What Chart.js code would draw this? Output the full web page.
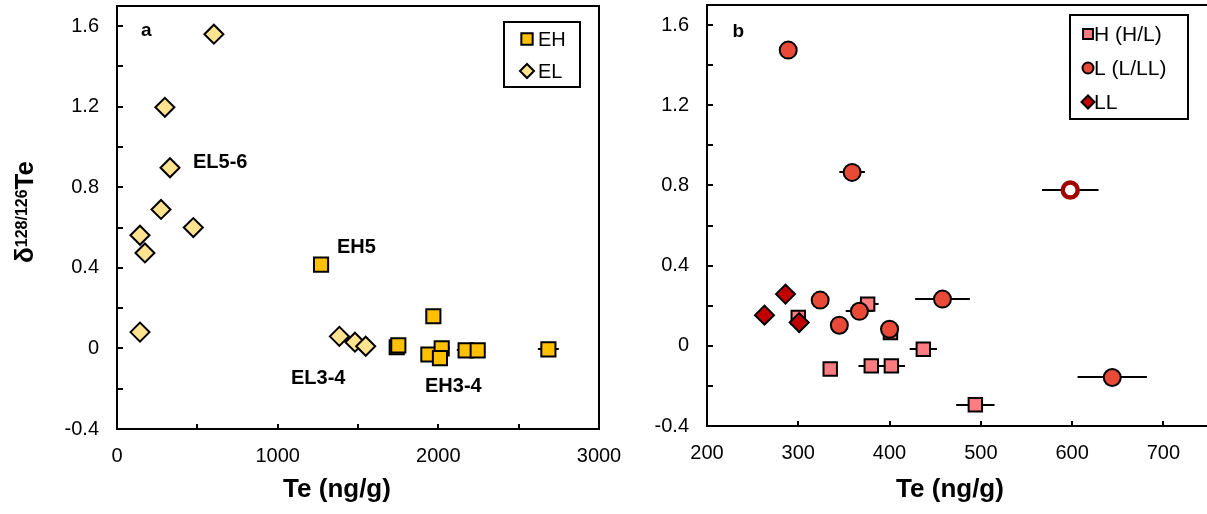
<!DOCTYPE html>
<html><head><meta charset="utf-8">
<script src="https://cdn.jsdelivr.net/npm/chart.js@4/dist/chart.umd.min.js"></script>
<style>
html,body{margin:0;padding:0;background:#fff;}
#wrap{position:relative;width:1207px;height:514px;overflow:hidden;background:#fff;}
canvas{position:absolute;top:0;}
#ca{left:0;}
#cb{left:600px;}
</style></head><body>
<div id="wrap"><canvas id="ca" width="640" height="514"></canvas><canvas id="cb" width="612" height="514"></canvas></div>
<script>
const FONT = '"Liberation Sans", Arial, Helvetica, sans-serif';

// ---------- Panel a data ----------
const ehTe    = [1270, 1969, 1741, 1751, 1938, 2021, 2010, 2170, 2245, 2685];
const ehDelta = [0.416, 0.16, 0.006, 0.015, -0.03, 0.0, -0.048, -0.01, -0.01, -0.005];
const ehTeErr = [0, 0, 0, 0, 0, 50, 0, 55, 0, 65];
const elTe    = [603, 298, 330, 274, 475, 143, 174, 143, 1384, 1481, 1548];
const elDelta = [1.56, 1.197, 0.897, 0.69, 0.60, 0.562, 0.474, 0.081, 0.06, 0.031, 0.011];

const aXTickValues = [0, 1000, 2000, 3000];
const aXTickLabels = ['0', '1000', '2000', '3000'];
const yTickValues  = [-0.4, 0, 0.4, 0.8, 1.2, 1.6];
const yTickLabels  = ['-0.4', '0', '0.4', '0.8', '1.2', '1.6'];
const aNotes = [
  {text: 'a',     x: 149,  y: 1.551, bold: true, size: 19},
  {text: 'EL5-6', x: 473,  y: 0.896, bold: true, size: 20},
  {text: 'EH5',   x: 1369, y: 0.474, bold: true, size: 20},
  {text: 'EL3-4', x: 1083, y: -0.177, bold: true, size: 20},
  {text: 'EH3-4', x: 1917, y: -0.216, bold: true, size: 20}
];

// ---------- Panel b data ----------
const hTe    = [376, 300, 401, 437, 335, 380, 402, 494];
const hDelta = [0.208, 0.141, 0.066, -0.017, -0.116, -0.10, -0.10, -0.294];
const hTeErr = [12, 0, 0, 15, 6, 14, 15, 21];
const lTe    = [289, 359, 324, 458, 367, 345, 400, 644];
const lDelta = [1.475, 0.865, 0.228, 0.233, 0.172, 0.103, 0.083, -0.158];
const lTeErr = [0, 14, 0, 30, 15, 0, 10, 38];
const lOpenTe    = [598];
const lOpenDelta = [0.777];
const lOpenTeErr = [31];
const llTe    = [263, 286, 301];
const llDelta = [0.153, 0.258, 0.116];

const bXTickValues = [200, 300, 400, 500, 600, 700];
const bXTickLabels = ['200', '300', '400', '500', '600', '700'];
const bNotes = [{text: 'b', x: 228, y: 1.540, bold: true, size: 19}];

// markers near the frame must not push the plot area inwards
(function () {
  const SC = Chart.ScatterController || (Chart.registry && Chart.registry.getController('scatter'));
  if (SC) SC.prototype.getMaxOverflow = function () { return 0; };
})();

// ---------- helpers ----------
function pts(xs, ys) { return xs.map((x, i) => ({x: x, y: ys[i]})); }
function lab(v, vals, labels) {
  const i = vals.findIndex(t => Math.abs(t - v) < 1e-6);
  return i >= 0 ? labels[i] : '';
}
function marker(ctx, style, x, y, r, fill, stroke, lw) {
  ctx.save();
  ctx.beginPath();
  if (style === 'rect') { const s = r * Math.SQRT1_2; ctx.rect(x - s, y - s, 2 * s, 2 * s); }
  else if (style === 'rectRot') { ctx.moveTo(x - r, y); ctx.lineTo(x, y - r); ctx.lineTo(x + r, y); ctx.lineTo(x, y + r); ctx.closePath(); }
  else { ctx.arc(x, y, r, 0, Math.PI * 2); }
  ctx.fillStyle = fill; ctx.fill();
  ctx.lineWidth = lw; ctx.strokeStyle = stroke; ctx.lineJoin = 'miter'; ctx.stroke();
  ctx.restore();
}

function framePlugin(cfg) {
  return {
    id: 'frame',
    beforeDatasetsDraw(chart) {
      const ctx = chart.ctx, a = chart.chartArea, xs = chart.scales.x, ys = chart.scales.y;
      ctx.save();
      ctx.strokeStyle = '#000'; ctx.lineWidth = 2;
      ctx.strokeRect(a.left, a.top, a.right - a.left, a.bottom - a.top);
      ctx.beginPath();
      xs.ticks.forEach(t => { const px = Math.round(xs.getPixelForValue(t.value)); ctx.moveTo(px, a.bottom); ctx.lineTo(px, a.bottom - cfg.xTickLen); });
      ys.ticks.forEach(t => { const py = Math.round(ys.getPixelForValue(t.value)); ctx.moveTo(a.left, py); ctx.lineTo(a.left + cfg.yTickLen, py); });
      ctx.stroke();
      // horizontal error bars
      ctx.beginPath();
      chart.data.datasets.forEach(ds => {
        if (!ds.xErr) return;
        ds.data.forEach((p, j) => {
          const e = ds.xErr[j]; if (!e) return;
          const y = Math.round(ys.getPixelForValue(p.y));
          ctx.moveTo(xs.getPixelForValue(p.x - e), y);
          ctx.lineTo(xs.getPixelForValue(p.x + e), y);
        });
      });
      ctx.stroke();
      ctx.restore();
    },
    afterDatasetsDraw(chart) {
      const ctx = chart.ctx, xs = chart.scales.x, ys = chart.scales.y;
      ctx.save();
      ctx.fillStyle = '#000';
      // notes
      ctx.textAlign = 'left'; ctx.textBaseline = 'alphabetic';
      cfg.notes.forEach(n => {
        ctx.font = (n.bold ? 'bold ' : '') + n.size + 'px ' + FONT;
        ctx.fillText(n.text, xs.getPixelForValue(n.x), ys.getPixelForValue(n.y));
      });
      // legend
      const L = cfg.legend;
      ctx.lineWidth = 2; ctx.strokeStyle = '#000';
      ctx.strokeRect(L.x, L.y, L.w, L.h);
      L.items.forEach((it, k) => {
        const ds = chart.data.datasets[it.ds];
        const cy = L.y + L.firstY + k * L.gap;
        marker(ctx, ds.pointStyle, L.x + L.mx, cy, it.r, ds.pointBackgroundColor, '#000', 2);
        ctx.fillStyle = '#000';
        ctx.font = L.size + 'px ' + FONT;
        ctx.textAlign = 'left'; ctx.textBaseline = 'middle';
        ctx.fillText(ds.label, L.x + L.tx, cy + 1);
      });
      // x title
      ctx.font = 'bold 26px ' + FONT;
      ctx.textAlign = 'center'; ctx.textBaseline = 'alphabetic';
      ctx.fillText(cfg.xTitle.text, cfg.xTitle.x, cfg.xTitle.y);
      // y title with superscript
      if (cfg.yTitle) {
        const t = cfg.yTitle;
        ctx.translate(t.x, t.y); ctx.rotate(-Math.PI / 2);
        ctx.textAlign = 'left';
        ctx.font = 'bold 26px ' + FONT;
        ctx.fillText(t.pre, 0, 0);
        let w = ctx.measureText(t.pre).width;
        ctx.font = 'bold 16px ' + FONT;
        ctx.fillText(t.sup, w, -6);
        w += ctx.measureText(t.sup).width;
        ctx.font = 'bold 26px ' + FONT;
        ctx.fillText(t.post, w, 0);
      }
      ctx.restore();
    }
  };
}

function buildChart(id, o) {
  const c = document.getElementById(id);
  const W = c.width, H = c.height;
  return new Chart(c, {
    type: 'scatter',
    data: {datasets: o.datasets},
    options: {
      responsive: false, animation: false, events: [],
      layout: {padding: {left: 0, top: o.area.top, right: W - o.area.right, bottom: 0}},
      plugins: {legend: {display: false}, tooltip: {enabled: false}},
      scales: {
        x: {
          type: 'linear', min: o.xMin, max: o.xMax,
          afterFit: s => { s.height = H - o.area.bottom; s.paddingLeft = 0; s.paddingRight = 0; },
          ticks: {stepSize: o.xStep, includeBounds: false, autoSkip: false, maxRotation: 0, minRotation: 0,
                  padding: 15, color: '#000', font: {family: FONT, size: 20},
                  callback: v => lab(v, o.xTickValues, o.xTickLabels)},
          grid: {display: false, drawTicks: false}, border: {display: false}
        },
        y: {
          type: 'linear', min: -0.4, max: 1.7,
          afterFit: s => { s.width = o.area.left; s.paddingTop = 0; s.paddingBottom = 0; },
          ticks: {stepSize: 0.2, includeBounds: false, autoSkip: false,
                  padding: 18, color: '#000', font: {family: FONT, size: 20, lineHeight: 0.5},
                  callback: v => lab(v, yTickValues, yTickLabels)},
          grid: {display: false, drawTicks: false}, border: {display: false}
        }
      }
    },
    plugins: [framePlugin(o)]
  });
}

// ---------- Panel a ----------
buildChart('ca', {
  area: {left: 117, right: 599, top: 6, bottom: 429},
  xMin: 0, xMax: 3000, xStep: 500,
  xTickValues: aXTickValues, xTickLabels: aXTickLabels,
  xTickLen: 5, yTickLen: 6,
  datasets: [
    {label: 'EH', data: pts(ehTe, ehDelta), xErr: ehTeErr, pointStyle: 'rect', pointRadius: 10,
     pointBackgroundColor: '#FFC000', pointBorderColor: '#000', pointBorderWidth: 2, order: 1},
    {label: 'EL', data: pts(elTe, elDelta), pointStyle: 'rectRot', pointRadius: 9.5,
     pointBackgroundColor: '#FFE38F', pointBorderColor: '#000', pointBorderWidth: 2, order: 2}
  ],
  notes: aNotes,
  legend: {x: 504, y: 22, w: 76, h: 65, mx: 23, tx: 34, firstY: 17, gap: 32, size: 20,
           items: [{ds: 0, r: 8}, {ds: 1, r: 7}]},
  xTitle: {text: 'Te (ng/g)', x: 337, y: 497},
  yTitle: {pre: 'δ', sup: '128/126', post: 'Te', x: 33, y: 263}
});

// ---------- Panel b ----------
buildChart('cb', {
  area: {left: 107, right: 609, top: 5, bottom: 426},
  xMin: 200, xMax: 750, xStep: 100,
  xTickValues: bXTickValues, xTickLabels: bXTickLabels,
  xTickLen: 5, yTickLen: 6,
  datasets: [
    {label: 'H (H/L)', data: pts(hTe, hDelta), xErr: hTeErr, pointStyle: 'rect', pointRadius: 9.5,
     pointBackgroundColor: '#FF7C80', pointBorderColor: '#000', pointBorderWidth: 2, order: 3},
    {label: 'L (L/LL)', data: pts(lTe, lDelta), xErr: lTeErr, pointStyle: 'circle', pointRadius: 8.5,
     pointBackgroundColor: '#E84A37', pointBorderColor: '#000', pointBorderWidth: 2, order: 2},
    {label: 'LL', data: pts(llTe, llDelta), pointStyle: 'rectRot', pointRadius: 9.5,
     pointBackgroundColor: '#C00000', pointBorderColor: '#000', pointBorderWidth: 2, order: 1},
    {label: 'L open', data: pts(lOpenTe, lOpenDelta), xErr: lOpenTeErr, pointStyle: 'circle', pointRadius: 7.5,
     pointBackgroundColor: '#FFFFFF', pointBorderColor: '#A00000', pointBorderWidth: 4.5, order: 0}
  ],
  notes: bNotes,
  legend: {x: 470, y: 15, w: 118, h: 104, mx: 18, tx: 24, firstY: 19, gap: 34, size: 21,
           items: [{ds: 0, r: 7}, {ds: 1, r: 5.5}, {ds: 2, r: 6.5}]},
  xTitle: {text: 'Te (ng/g)', x: 350, y: 497},
  yTitle: null
});
</script>
</body></html>
